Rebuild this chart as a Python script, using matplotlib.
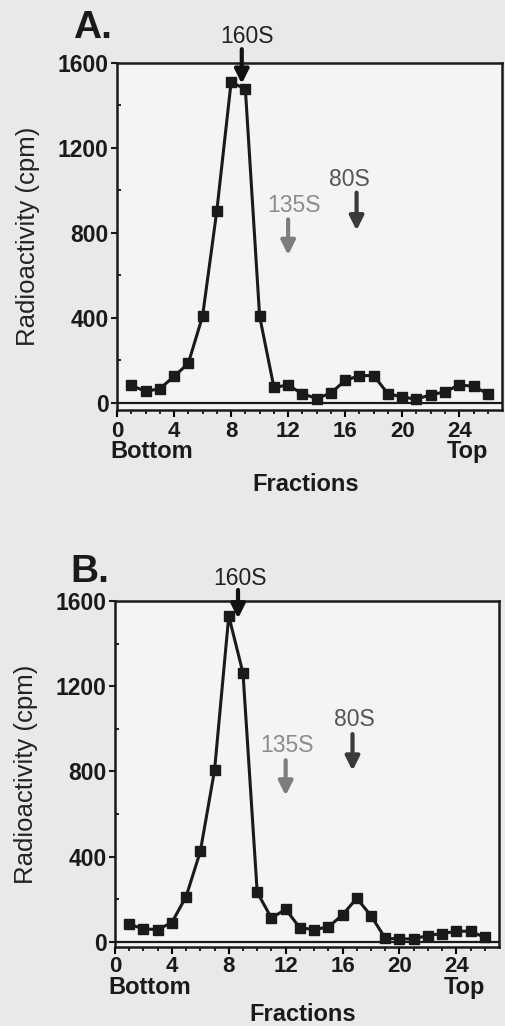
import matplotlib
matplotlib.use('Agg')
import matplotlib.pyplot as plt
import numpy as np

plt.rcParams['font.family'] = ['Liberation Sans', 'DejaVu Sans']

fractions = list(range(1, 27))

# panel A: radioactivity (cpm) per fraction
cpm_a = [81, 53, 65, 123, 185, 407, 904, 1509, 1478, 407, 73, 81, 42, 19, 45,
         104, 127, 127, 42, 26, 16, 37, 50, 84, 76, 42]
# panel B
cpm_b = [82, 60, 57, 90, 212, 424, 805, 1530, 1262, 232, 111, 152, 65, 57, 69,
         126, 204, 122, 16, 13, 13, 29, 38, 49, 49, 20]

panel_labels = ['A.', 'B.']
marker_names = ['160S', '135S', '80S']
# arrow x, shaft start, tip, label y, label x
arrows_a = [(8.75, 1665, 1502, 1725, 9.1), (12.0, 863, 695, 928, 12.4), (16.8, 989, 811, 1050, 16.3)]
arrows_b = [(8.65, 1652, 1518, 1705, 8.8), (12.0, 852, 686, 922, 12.1), (16.7, 975, 803, 1045, 16.8)]
arrow_colors = ['#111111', '#7d7d7d', '#3a3a3a']
label_colors = ['#222222', '#8c8c8c', '#555555']

xticks = [0, 4, 8, 12, 16, 20, 24]
yticks = [0, 400, 800, 1200, 1600]

fig = plt.figure(figsize=(5.05, 10.26), dpi=100)
fig.patch.set_facecolor('#e9e9e9')

axes_pos = [[0.2317, 0.6004, 0.7624, 0.3382], [0.2277, 0.0770, 0.7604, 0.3372]]
ylow = [-35, -25]
datasets = [cpm_a, cpm_b]
arrowsets = [arrows_a, arrows_b]
below = [(22, 42, 75), (20, 41, 68)]
letter_y = [1.10, 1.085]

for i in range(2):
    ax = fig.add_axes(axes_pos[i])
    ax.set_facecolor('#f4f4f4')
    ax.plot(fractions, datasets[i], color='#1a1a1a', lw=2.2, marker='s',
            markersize=6.5, zorder=3, clip_on=False)
    ax.axhline(0, color='#1a1a1a', lw=1.6, zorder=2)
    ax.set_xlim(0, 27)
    ax.set_ylim(ylow[i], 1600)
    ax.set_xticks(xticks)
    ax.set_xticks(range(0, 27), minor=True)
    ax.set_yticks(yticks)
    ax.set_yticks(range(200, 1600, 400), minor=True)
    ax.set_xticklabels([])
    for s in ax.spines.values():
        s.set_linewidth(1.8)
        s.set_color('#1a1a1a')
    ax.tick_params(axis='y', which='major', direction='out', length=4, width=1.5,
                   labelsize=16.5, pad=2, colors='#1a1a1a')
    ax.tick_params(axis='y', which='minor', direction='in', length=3, width=1.2)
    ax.tick_params(axis='x', which='major', direction='out', length=5, width=1.5)
    ax.tick_params(axis='x', which='minor', direction='out', length=3, width=1.2)
    for lab in ax.get_yticklabels():
        lab.set_fontweight('bold')

    tick_off, bt_off, fr_off = below[i]
    for t in xticks:
        ax.annotate(str(t), xy=(t, ylow[i]), xytext=(0, -tick_off * 0.72),
                    textcoords='offset points', ha='center', va='center',
                    fontsize=16, fontweight='bold', color='#1a1a1a', annotation_clip=False)
    ax.annotate('Bottom', xy=(0, ylow[i]), xytext=(-5, -bt_off * 0.72),
                textcoords='offset points', ha='left', va='center',
                fontsize=17, fontweight='bold', color='#1a1a1a', annotation_clip=False)
    ax.annotate('Top', xy=(27, ylow[i]), xytext=(-10, -bt_off * 0.72),
                textcoords='offset points', ha='right', va='center',
                fontsize=17, fontweight='bold', color='#1a1a1a', annotation_clip=False)
    ax.annotate('Fractions', xy=(13.2, ylow[i]), xytext=(0, -fr_off * 0.72),
                textcoords='offset points', ha='center', va='center',
                fontsize=17, fontweight='bold', color='#1a1a1a', annotation_clip=False)

    ax.set_ylabel('Radioactivity (cpm)', fontsize=18.5, color='#222222', labelpad=13)

    for (ax_x, y0, y1, ly, lx), name, ac, lc in zip(arrowsets[i], marker_names,
                                                     arrow_colors, label_colors):
        ax.annotate('', xy=(ax_x, y1), xytext=(ax_x, y0),
                    arrowprops=dict(arrowstyle='-|>', lw=3, color=ac,
                                    mutation_scale=21, shrinkA=0, shrinkB=0),
                    annotation_clip=False, zorder=4)
        ax.text(lx, ly, name, ha='center', va='center', fontsize=16.5, color=lc,
                clip_on=False)

    ax.text(-0.115, letter_y[i], panel_labels[i],
            transform=ax.transAxes, fontsize=28, fontweight='bold',
            ha='left', va='center', color='#1a1a1a')

fig.savefig('out.png', dpi=100, facecolor=fig.get_facecolor())
